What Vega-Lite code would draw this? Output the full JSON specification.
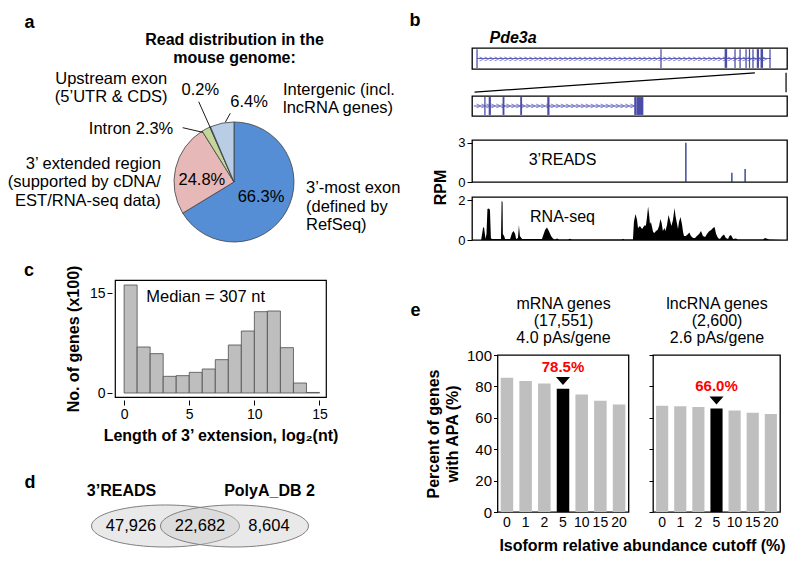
{
  "$schema": "https://vega.github.io/schema/vega-lite/v6.json",
  "background": "white",
  "padding": {"left": 7, "top": 10, "right": 0, "bottom": 0},
  "config": {
    "font": "Liberation Sans",
    "view": {"stroke": null},
    "axis": {"grid": false, "labelColor": "#000", "titleColor": "#000", "tickColor": "#000", "domainColor": "#000", "labelFont": "Liberation Sans", "titleFont": "Liberation Sans"},
    "title": {"color": "#000", "font": "Liberation Sans"},
    "text": {"color": "#000"}
  },
  "spacing": 7,
  "hconcat": [
    {
      "vconcat": [
        {
          "width": 283,
          "height": 192,
          "data": {"values": [
            {"region": "3’-most exon", "pct": 66.3, "order": 1, "label": "66.3%"},
            {"region": "3’ extended region", "pct": 24.8, "order": 2, "label": "24.8%"},
            {"region": "Intron", "pct": 2.3, "order": 3, "label": "2.3%"},
            {"region": "Upstream exon", "pct": 0.2, "order": 4, "label": "0.2%"},
            {"region": "Intergenic", "pct": 6.4, "order": 5, "label": "6.4%"}
          ]},
          "encoding": {
            "theta": {"field": "pct", "type": "quantitative", "stack": true},
            "order": {"field": "order", "type": "quantitative", "sort": "ascending"},
            "detail": {"field": "region", "type": "nominal"},
            "x": {"datum": 0, "type": "quantitative", "scale": {"domain": [-1.983, 2.733], "nice": false, "zero": false},
              "axis": {"orient": "top", "labels": false, "ticks": false, "domain": false, "title": ["Read distribution in the", "mouse genome:"], "titleX": 119, "titleY": -4, "titleAlign": "center", "titleBaseline": "alphabetic", "titleFontSize": 16, "titleFontWeight": "bold", "titleLineHeight": 18}},
            "y": {"datum": 0, "type": "quantitative", "scale": {"domain": [-0.967, 2.233], "nice": false, "zero": false},
              "axis": {"labels": false, "ticks": false, "domain": false, "title": "a", "titleX": -91, "titleY": -21, "titleAngle": 0, "titleAlign": "left", "titleBaseline": "alphabetic", "titleFontSize": 18, "titleFontWeight": "bold"}}
          },
          "layer": [
            {"mark": {"type": "arc", "outerRadius": 60, "stroke": "#404040", "strokeWidth": 0.8},
             "encoding": {"color": {"field": "region", "type": "nominal", "legend": null,
               "scale": {"domain": ["3’-most exon", "3’ extended region", "Intron", "Upstream exon", "Intergenic"], "range": ["#558ED5", "#E6B9B8", "#C3D69B", "#7F6A9F", "#B9CDE5"]}}}},
            {"data": {"values": [{}]}, "mark": {"type": "rule", "color": "#000", "strokeWidth": 0.9},
             "encoding": {"x": {"datum": -0.855}, "y": {"datum": 0.905}, "x2": {"datum": -0.522}, "y2": {"datum": 0.828}}},
            {"data": {"values": [{}]}, "mark": {"type": "rule", "color": "#000", "strokeWidth": 0.9},
             "encoding": {"x": {"datum": -0.588}, "y": {"datum": 1.338}, "x2": {"datum": -0.395}, "y2": {"datum": 0.905}}},
            {"data": {"values": [{}]}, "mark": {"type": "rule", "color": "#000", "strokeWidth": 0.9},
             "encoding": {"x": {"datum": -0.062}, "y": {"datum": 1.145}, "x2": {"datum": -0.145}, "y2": {"datum": 0.995}}},
            {"mark": {"type": "text", "radius": 31, "fontSize": 16.5, "align": "center", "baseline": "middle"},
             "encoding": {"text": {"condition": {"test": "datum.order === 1", "field": "label"}, "value": ""}}},
            {"mark": {"type": "text", "radius": 33, "dy": 6, "fontSize": 16.5, "align": "center", "baseline": "middle"},
             "encoding": {"text": {"condition": {"test": "datum.order === 2", "field": "label"}, "value": ""}}},
            {"mark": {"type": "text", "radius": 70, "dx": -28, "dy": 9, "fontSize": 16.5, "align": "right", "baseline": "middle"},
             "encoding": {"text": {"condition": {"test": "datum.order === 3", "value": "Intron  2.3%"}, "value": ""}}},
            {"mark": {"type": "text", "radius": 70, "dx": -95, "dy": -47, "fontSize": 16.5, "lineHeight": 18.5, "lineBreak": "\n", "align": "center", "baseline": "top"},
             "encoding": {"text": {"condition": {"test": "datum.order === 4", "value": "Upstream exon\n(5’UTR & CDS)"}, "value": ""}}},
            {"mark": {"type": "text", "radius": 95, "dx": 4, "dy": -5, "fontSize": 16.5, "align": "center", "baseline": "middle"},
             "encoding": {"text": {"condition": {"test": "datum.order === 4", "field": "label"}, "value": ""}}},
            {"mark": {"type": "text", "radius": 80, "dx": 31, "dy": -2, "fontSize": 16.5, "align": "center", "baseline": "middle"},
             "encoding": {"text": {"condition": {"test": "datum.order === 5", "field": "label"}, "value": ""}}},
            {"mark": {"type": "text", "radius": 80, "dx": 65, "dy": -22, "fontSize": 16.5, "lineHeight": 18.5, "lineBreak": "\n", "align": "left", "baseline": "top"},
             "encoding": {"text": {"condition": {"test": "datum.order === 5", "value": "Intergenic (incl.\nlncRNA genes)"}, "value": ""}}},
            {"mark": {"type": "text", "radius": 70, "dx": -5, "dy": -10, "fontSize": 16.5, "lineHeight": 18.5, "lineBreak": "\n", "align": "right", "baseline": "top"},
             "encoding": {"text": {"condition": {"test": "datum.order === 2", "value": "3’ extended region\n(supported by cDNA/\nEST/RNA-seq data)"}, "value": ""}}},
            {"mark": {"type": "text", "radius": 70, "dx": 11, "dy": -36, "fontSize": 16.5, "lineHeight": 18.5, "lineBreak": "\n", "align": "left", "baseline": "top"},
             "encoding": {"text": {"condition": {"test": "datum.order === 1", "value": "3’-most exon\n(defined by\nRefSeq)"}, "value": ""}}}
          ]
        },
        {
          "width": 211,
          "height": 117,
          "view": {"stroke": "#000", "strokeWidth": 1.2},
          "title": {"text": "c", "anchor": "start", "frame": "group", "dx": -91, "dy": 34, "offset": 5, "baseline": "alphabetic", "fontSize": 18, "fontWeight": "bold"},
          "layer": [
            {
              "data": {"values": [
                {"bin_start": 0, "bin_end": 1, "count": 16.2},
                {"bin_start": 1, "bin_end": 2, "count": 6.9},
                {"bin_start": 2, "bin_end": 3, "count": 5.9},
                {"bin_start": 3, "bin_end": 4, "count": 2.5},
                {"bin_start": 4, "bin_end": 5, "count": 2.6},
                {"bin_start": 5, "bin_end": 6, "count": 3.1},
                {"bin_start": 6, "bin_end": 7, "count": 3.6},
                {"bin_start": 7, "bin_end": 8, "count": 5.0},
                {"bin_start": 8, "bin_end": 9, "count": 7.2},
                {"bin_start": 9, "bin_end": 10, "count": 9.3},
                {"bin_start": 10, "bin_end": 11, "count": 12.2},
                {"bin_start": 11, "bin_end": 12, "count": 12.3},
                {"bin_start": 12, "bin_end": 13, "count": 6.8},
                {"bin_start": 13, "bin_end": 14, "count": 1.5},
                {"bin_start": 14, "bin_end": 15, "count": 0.08}
              ]},
              "mark": {"type": "bar", "fill": "#BEBEBE", "stroke": "#4D4D4D", "strokeWidth": 0.8},
              "encoding": {
                "x": {"field": "bin_start", "type": "quantitative", "scale": {"domain": [-0.7, 15.5], "nice": false, "zero": false},
                  "axis": {"values": [0, 5, 10, 15], "offset": 3, "domain": false, "tickSize": 5, "labelFontSize": 14, "labelPadding": 2, "labelFlush": false, "title": "Length of 3’ extension, log₂(nt)", "titleFontSize": 16, "titleFontWeight": "bold", "titlePadding": 6}},
                "x2": {"field": "bin_end"},
                "y": {"field": "count", "type": "quantitative", "scale": {"domain": [-0.6, 16.95], "nice": false, "zero": false},
                  "axis": {"values": [0, 5, 10, 15], "offset": 3, "domain": false, "tickSize": 5, "labelFontSize": 14, "labelPadding": 2, "labelFlush": false, "title": "No. of genes (x100)", "titleFontSize": 16, "titleFontWeight": "bold", "titlePadding": 8}},
                "y2": {"datum": 0}
              }
            },
            {
              "data": {"values": [{"note": "Median = 307 nt"}]},
              "mark": {"type": "text", "align": "left", "baseline": "alphabetic", "fontSize": 16.5},
              "encoding": {"x": {"datum": 1.7}, "y": {"datum": 13.6}, "text": {"field": "note"}}
            }
          ]
        },
        {
          "width": 170,
          "height": 178,
          "encoding": {
            "x": {"field": "slot", "type": "nominal",
              "scale": {"type": "point", "domain": ["3’READS only", "3’READS", "Both", "PolyA_DB 2", "PolyA_DB 2 only"], "padding": 0.464},
              "axis": {"orient": "top", "labels": false, "ticks": false, "domain": false, "title": "d", "titleX": -91, "titleY": 50, "titleAngle": 0, "titleAlign": "left", "titleBaseline": "alphabetic", "titleFontSize": 18, "titleFontWeight": "bold"}}
          },
          "layer": [
            {
              "data": {"values": [{"slot": "3’READS"}, {"slot": "PolyA_DB 2"}]},
              "mark": {"type": "point", "shape": "M -1 0 C -1 -0.157 -0.5523 -0.284 0 -0.284 C 0.5523 -0.284 1 -0.157 1 0 C 1 0.157 0.5523 0.284 0 0.284 C -0.5523 0.284 -1 0.157 -1 0 Z", "size": 21904, "filled": true, "fill": "#C8C8C8", "fillOpacity": 0.4, "stroke": "#7F7F7F", "strokeWidth": 1, "strokeOpacity": 1, "opacity": 1}
            },
            {
              "data": {"values": [{"slot": "3’READS"}]},
              "mark": {"type": "text", "fontSize": 16, "fontWeight": "bold", "dx": -44, "dy": -35, "baseline": "middle"},
              "encoding": {"text": {"field": "slot"}}
            },
            {
              "data": {"values": [{"slot": "PolyA_DB 2"}]},
              "mark": {"type": "text", "fontSize": 16, "fontWeight": "bold", "dx": 35, "dy": -35, "baseline": "middle"},
              "encoding": {"text": {"field": "slot"}}
            },
            {
              "data": {"values": [
                {"slot": "3’READS only", "count": 47926},
                {"slot": "Both", "count": 22682},
                {"slot": "PolyA_DB 2 only", "count": 8604}
              ]},
              "mark": {"type": "text", "fontSize": 16.5, "baseline": "middle"},
              "encoding": {"text": {"field": "count", "type": "quantitative", "format": ","}}
            }
          ]
        }
      ],
      "bounds": "flush",
      "spacing": 40
    },
    {
      "vconcat": [
        {
          "vconcat": [
            {
              "width": 315,
              "height": 21,
              "view": {"stroke": "#000", "strokeWidth": 1.3},
              "data": {"values": [
                {"model": "Pde3a", "feature": "intron", "start": 1.6, "end": 94.9},
                {"model": "Pde3a", "feature": "exon", "start": 1.4, "end": 1.8},
                {"model": "Pde3a", "feature": "exon", "start": 59.8, "end": 60.2},
                {"model": "Pde3a", "feature": "exon", "start": 80.2, "end": 81.0},
                {"model": "Pde3a", "feature": "exon", "start": 83.3, "end": 83.7},
                {"model": "Pde3a", "feature": "exon", "start": 84.9, "end": 85.3},
                {"model": "Pde3a", "feature": "exon", "start": 86.8, "end": 87.2},
                {"model": "Pde3a", "feature": "exon", "start": 87.9, "end": 88.3},
                {"model": "Pde3a", "feature": "exon", "start": 89.0, "end": 89.4},
                {"model": "Pde3a", "feature": "exon", "start": 90.4, "end": 91.1},
                {"model": "Pde3a", "feature": "exon", "start": 91.6, "end": 92.4},
                {"model": "Pde3a", "feature": "exon", "start": 94.4, "end": 94.8}
              ]},
              "encoding": {
                "x": {"field": "start", "type": "quantitative", "scale": {"domain": [0, 100], "nice": false, "zero": false},
                  "axis": {"labels": false, "ticks": false, "domain": false, "title": "Pde3a", "titleX": 17, "titleY": -27, "titleAlign": "left", "titleBaseline": "alphabetic", "titleFontSize": 16, "titleFontWeight": "bold", "titleFontStyle": "italic"}},
                "y": {"field": "model", "type": "nominal", "scale": {"paddingInner": 0, "paddingOuter": 0.06},
                  "axis": {"labels": false, "ticks": false, "domain": false, "title": "b", "titleX": -63, "titleY": -23, "titleAngle": 0, "titleAlign": "left", "titleBaseline": "alphabetic", "titleFontSize": 18, "titleFontWeight": "bold"}}
              },
              "layer": [
                {"transform": [{"filter": "datum.feature === 'intron'"}], "mark": {"type": "rule", "color": "#5B5BB5", "strokeWidth": 1.2}, "encoding": {"x2": {"field": "end"}}},
                {"transform": [{"filter": "datum.feature === 'intron'"}], "mark": {"type": "text", "text": ">>>>>>>>>>>>>>>>>>>>>>>>>>>>>>>>>>>>>>>>>>>>>>>>>>>>>>>>>>", "fontSize": 8.5, "color": "#6A6AC0", "align": "left", "baseline": "middle", "dx": 2}},
                {"transform": [{"filter": "datum.feature === 'exon'"}], "mark": {"type": "bar", "color": "#4B4BA8"}, "encoding": {"x2": {"field": "end"}}}
              ]
            },
            {
              "width": 315,
              "height": 27,
              "data": {"values": [
                {"link": "left", "level": "Whole gene", "pos": 89.8},
                {"link": "left", "level": "3’ end", "pos": 0.8},
                {"link": "right", "level": "Whole gene", "pos": 99.7},
                {"link": "right", "level": "3’ end", "pos": 99.7}
              ]},
              "mark": {"type": "line", "color": "#000", "strokeWidth": 1.2},
              "encoding": {
                "x": {"field": "pos", "type": "quantitative", "scale": {"domain": [0, 100], "nice": false, "zero": false}, "axis": null},
                "y": {"field": "level", "type": "ordinal", "scale": {"type": "point", "domain": ["Whole gene", "3’ end"], "padding": 0.2}, "axis": null},
                "detail": {"field": "link"}
              }
            },
            {
              "width": 315,
              "height": 20,
              "view": {"stroke": "#000", "strokeWidth": 1.3},
              "data": {"values": [
                {"model": "3’ end", "feature": "intron", "start": 0.6, "end": 52.0},
                {"model": "3’ end", "feature": "exon", "start": 3.9, "end": 4.3},
                {"model": "3’ end", "feature": "exon", "start": 5.3, "end": 6.0},
                {"model": "3’ end", "feature": "exon", "start": 9.7, "end": 10.3},
                {"model": "3’ end", "feature": "exon", "start": 15.3, "end": 15.9},
                {"model": "3’ end", "feature": "exon", "start": 23.9, "end": 24.6},
                {"model": "3’ end", "feature": "exon", "start": 51.5, "end": 52.2},
                {"model": "3’ end", "feature": "exon", "start": 52.2, "end": 54.4}
              ]},
              "encoding": {
                "x": {"field": "start", "type": "quantitative", "scale": {"domain": [0, 100], "nice": false, "zero": false}, "axis": null},
                "y": {"field": "model", "type": "nominal", "scale": {"paddingInner": 0, "paddingOuter": 0.06}, "axis": null}
              },
              "layer": [
                {"transform": [{"filter": "datum.feature === 'intron'"}], "mark": {"type": "rule", "color": "#5B5BB5", "strokeWidth": 1.2}, "encoding": {"x2": {"field": "end"}}},
                {"transform": [{"filter": "datum.feature === 'intron'"}], "mark": {"type": "text", "text": ">>>>>>>>>>>>>>>>>>>>>>>>>>>>>>>>", "fontSize": 8.5, "color": "#6A6AC0", "align": "left", "baseline": "middle", "dx": 2}},
                {"transform": [{"filter": "datum.feature === 'exon'"}], "mark": {"type": "bar", "color": "#4B4BA8"}, "encoding": {"x2": {"field": "end"}}}
              ]
            },
            {"width": 315, "height": 24, "data": {"values": [{}]}, "mark": {"type": "text", "text": ""}},
            {
              "width": 315,
              "height": 42,
              "view": {"stroke": "#000", "strokeWidth": 1.3},
              "data": {"values": [
                {"pos": 67.9, "rpm": 3.0},
                {"pos": 82.5, "rpm": 0.7},
                {"pos": 86.7, "rpm": 1.0}
              ]},
              "mark": {"type": "rule", "color": "#22308A", "strokeWidth": 1.3},
              "encoding": {
                "x": {"field": "pos", "type": "quantitative", "scale": {"domain": [0, 100], "nice": false, "zero": false},
                  "axis": {"labels": false, "ticks": false, "domain": false, "title": "3’READS", "titleX": 90, "titleY": -23, "titleAlign": "center", "titleBaseline": "middle", "titleFontSize": 16, "titleFontWeight": "normal"}},
                "y": {"field": "rpm", "type": "quantitative", "scale": {"domain": [0, 3.2], "nice": false},
                  "axis": {"values": [0, 3], "tickSize": 5, "domain": false, "labelFontSize": 13, "labelPadding": 2, "title": "RPM", "titleX": -32, "titleY": 47, "titleAngle": -90, "titleAlign": "center", "titleBaseline": "middle", "titleFontSize": 16, "titleFontWeight": "bold"}},
                "y2": {"datum": 0}
              }
            },
            {"width": 315, "height": 15, "data": {"values": [{}]}, "mark": {"type": "text", "text": ""}},
            {
              "width": 315,
              "height": 43,
              "view": {"stroke": "#000", "strokeWidth": 1.3},
              "data": {"values": [
                {"pos": 0, "rpm": 0}, {"pos": 2.9, "rpm": 0}, {"pos": 3.5, "rpm": 0.6}, {"pos": 3.8, "rpm": 0.65},
                {"pos": 4.3, "rpm": 0.05}, {"pos": 4.6, "rpm": 0.3}, {"pos": 4.9, "rpm": 1.55}, {"pos": 5.4, "rpm": 1.58},
                {"pos": 5.7, "rpm": 1.5}, {"pos": 6.0, "rpm": 0.1}, {"pos": 6.3, "rpm": 0.05}, {"pos": 8.3, "rpm": 0.05},
                {"pos": 9.2, "rpm": 0.05}, {"pos": 9.4, "rpm": 1.95}, {"pos": 9.7, "rpm": 1.9}, {"pos": 9.8, "rpm": 0.3},
                {"pos": 10.2, "rpm": 0.2}, {"pos": 10.5, "rpm": 0.05}, {"pos": 12.1, "rpm": 0.05}, {"pos": 12.7, "rpm": 0.35},
                {"pos": 13.2, "rpm": 0.45}, {"pos": 13.7, "rpm": 0.3}, {"pos": 14.0, "rpm": 0.05}, {"pos": 14.6, "rpm": 0.1},
                {"pos": 14.9, "rpm": 0.75}, {"pos": 15.2, "rpm": 0.2}, {"pos": 15.9, "rpm": 0.05}, {"pos": 22.2, "rpm": 0.05},
                {"pos": 23.2, "rpm": 0.5}, {"pos": 23.8, "rpm": 0.62}, {"pos": 24.4, "rpm": 0.45}, {"pos": 25.1, "rpm": 0.2},
                {"pos": 25.7, "rpm": 0.08}, {"pos": 26.3, "rpm": 0.02}, {"pos": 27.0, "rpm": 0.08}, {"pos": 27.6, "rpm": 0.02},
                {"pos": 30.5, "rpm": 0.02}, {"pos": 31.1, "rpm": 0.06}, {"pos": 31.7, "rpm": 0.02}, {"pos": 47.6, "rpm": 0.02},
                {"pos": 47.9, "rpm": 0.06}, {"pos": 48.3, "rpm": 0.02}, {"pos": 51.1, "rpm": 0.02}, {"pos": 51.4, "rpm": 0.9},
                {"pos": 51.9, "rpm": 1.3}, {"pos": 52.4, "rpm": 1.0}, {"pos": 52.7, "rpm": 0.6}, {"pos": 53.3, "rpm": 0.7},
                {"pos": 54.0, "rpm": 0.55}, {"pos": 54.4, "rpm": 0.65}, {"pos": 54.9, "rpm": 0.75}, {"pos": 55.2, "rpm": 0.7},
                {"pos": 55.6, "rpm": 1.2}, {"pos": 55.9, "rpm": 1.67}, {"pos": 56.2, "rpm": 1.3}, {"pos": 56.5, "rpm": 0.8},
                {"pos": 56.8, "rpm": 0.9}, {"pos": 57.5, "rpm": 0.4}, {"pos": 57.9, "rpm": 0.35}, {"pos": 58.4, "rpm": 0.45},
                {"pos": 58.9, "rpm": 0.5}, {"pos": 59.4, "rpm": 0.7}, {"pos": 59.8, "rpm": 1.05}, {"pos": 60.2, "rpm": 0.85},
                {"pos": 60.6, "rpm": 0.45}, {"pos": 61.1, "rpm": 0.6}, {"pos": 61.4, "rpm": 0.45}, {"pos": 61.9, "rpm": 0.75},
                {"pos": 62.4, "rpm": 1.25}, {"pos": 62.9, "rpm": 0.95}, {"pos": 63.3, "rpm": 0.7}, {"pos": 63.8, "rpm": 1.0},
                {"pos": 64.3, "rpm": 1.6}, {"pos": 64.6, "rpm": 1.2}, {"pos": 65.1, "rpm": 0.8}, {"pos": 65.4, "rpm": 0.55},
                {"pos": 65.7, "rpm": 0.9}, {"pos": 66.2, "rpm": 1.15}, {"pos": 66.7, "rpm": 0.75}, {"pos": 67.0, "rpm": 0.4},
                {"pos": 67.3, "rpm": 0.2}, {"pos": 67.9, "rpm": 0.2}, {"pos": 68.6, "rpm": 0.3}, {"pos": 69.0, "rpm": 0.38},
                {"pos": 69.5, "rpm": 0.2}, {"pos": 70.2, "rpm": 0.1}, {"pos": 70.8, "rpm": 0.1}, {"pos": 71.4, "rpm": 0.2},
                {"pos": 72.1, "rpm": 0.3}, {"pos": 72.7, "rpm": 0.45}, {"pos": 73.3, "rpm": 0.2}, {"pos": 74.0, "rpm": 0.15},
                {"pos": 74.6, "rpm": 0.3}, {"pos": 75.2, "rpm": 0.42}, {"pos": 75.9, "rpm": 0.5}, {"pos": 76.5, "rpm": 0.6},
                {"pos": 77.0, "rpm": 0.65}, {"pos": 77.5, "rpm": 0.3}, {"pos": 78.1, "rpm": 0.1}, {"pos": 78.7, "rpm": 0.05},
                {"pos": 79.4, "rpm": 0.2}, {"pos": 80.0, "rpm": 0.28}, {"pos": 80.6, "rpm": 0.1}, {"pos": 81.3, "rpm": 0.05},
                {"pos": 81.7, "rpm": 0.2}, {"pos": 82.2, "rpm": 0.25}, {"pos": 82.9, "rpm": 0.05}, {"pos": 83.8, "rpm": 0.08},
                {"pos": 84.4, "rpm": 0.02}, {"pos": 92.4, "rpm": 0.02}, {"pos": 93.0, "rpm": 0.1}, {"pos": 93.7, "rpm": 0.06},
                {"pos": 94.3, "rpm": 0.02}, {"pos": 99.0, "rpm": 0}
              ]},
              "mark": {"type": "area", "color": "#000", "interpolate": "linear"},
              "encoding": {
                "x": {"field": "pos", "type": "quantitative", "scale": {"domain": [0, 100], "nice": false, "zero": false},
                  "axis": {"labels": false, "ticks": false, "domain": false, "title": "RNA-seq", "titleX": 90, "titleY": -24, "titleAlign": "center", "titleBaseline": "middle", "titleFontSize": 16, "titleFontWeight": "normal"}},
                "y": {"field": "rpm", "type": "quantitative", "scale": {"domain": [0, 2.15], "nice": false},
                  "axis": {"values": [0, 2], "tickSize": 5, "domain": false, "labelFontSize": 13, "labelPadding": 2, "title": null}}
              }
            }
          ],
          "bounds": "flush",
          "spacing": 0
        },
        {
          "hconcat": [
            {"width": 0.01, "height": 1, "data": {"values": [{}]}, "mark": {"type": "text", "text": ""}},
            {
              "width": 131,
              "height": 157,
              "view": {"stroke": "#000", "strokeWidth": 1.3},
              "data": {"values": [
                {"cutoff": 0, "pct": 85.5}, {"cutoff": 1, "pct": 83.4}, {"cutoff": 2, "pct": 81.9},
                {"cutoff": 5, "pct": 78.5, "label": "78.5%"}, {"cutoff": 10, "pct": 74.8},
                {"cutoff": 15, "pct": 70.9}, {"cutoff": 20, "pct": 68.4}
              ]},
              "encoding": {
                "x": {"field": "cutoff", "type": "ordinal", "scale": {"paddingInner": 0.33, "paddingOuter": 0.17},
                  "axis": {"labelAngle": 0, "ticks": false, "domain": false, "labelFontSize": 14, "labelPadding": 3, "title": ["mRNA genes", "(17,551)", "4.0 pAs/gene"], "titleX": 65.5, "titleY": -204, "titleAlign": "center", "titleBaseline": "alphabetic", "titleFontSize": 16, "titleFontWeight": "normal", "titleLineHeight": 17}},
                "y": {"field": "pct", "type": "quantitative", "scale": {"domain": [0, 100], "nice": false},
                  "axis": {"values": [0, 20, 40, 60, 80, 100], "tickSize": 4, "domain": false, "labelFontSize": 15, "labelPadding": 2, "title": ["Percent of genes", "with APA (%)"], "titleFontSize": 16, "titleFontWeight": "bold", "titlePadding": 6, "titleLineHeight": 19}}
              },
              "layer": [
                {"mark": {"type": "bar"}, "encoding": {"color": {"condition": {"test": "datum.cutoff === 5", "value": "#000000"}, "value": "#BFBFBF"}}},
                {"transform": [{"filter": "datum.cutoff === 5"}], "mark": {"type": "point", "shape": "M -1 -1.69 L 1 -1.69 L 0 -0.55 Z", "size": 196, "filled": true, "color": "#000", "opacity": 1}},
                {"transform": [{"filter": "datum.cutoff === 5"}], "mark": {"type": "text", "color": "#FF0000", "fontWeight": "bold", "fontSize": 15, "dy": -22, "baseline": "middle"}, "encoding": {"text": {"field": "label"}}}
              ]
            },
            {
              "width": 127,
              "height": 157,
              "view": {"stroke": "#000", "strokeWidth": 1.3},
              "title": {"text": "Isoform relative abundance cutoff (%)", "orient": "bottom", "anchor": "middle", "frame": "group", "dx": -74, "offset": 9, "baseline": "top", "fontSize": 16, "fontWeight": "bold"},
              "data": {"values": [
                {"cutoff": 0, "pct": 67.6}, {"cutoff": 1, "pct": 67.3}, {"cutoff": 2, "pct": 66.9},
                {"cutoff": 5, "pct": 66.0, "label": "66.0%"}, {"cutoff": 10, "pct": 64.7},
                {"cutoff": 15, "pct": 63.2}, {"cutoff": 20, "pct": 62.5}
              ]},
              "encoding": {
                "x": {"field": "cutoff", "type": "ordinal", "scale": {"paddingInner": 0.33, "paddingOuter": 0.17},
                  "axis": {"labelAngle": 0, "ticks": false, "domain": false, "labelFontSize": 14, "labelPadding": 3, "title": ["lncRNA genes", "(2,600)", "2.6 pAs/gene"], "titleX": 63.5, "titleY": -204, "titleAlign": "center", "titleBaseline": "alphabetic", "titleFontSize": 16, "titleFontWeight": "normal", "titleLineHeight": 17}},
                "y": {"field": "pct", "type": "quantitative", "scale": {"domain": [0, 100], "nice": false},
                  "axis": {"values": [0, 20, 40, 60, 80, 100], "labels": false, "tickSize": 4, "domain": false, "title": "e", "titleX": -243, "titleY": -40, "titleAngle": 0, "titleAlign": "left", "titleBaseline": "alphabetic", "titleFontSize": 18, "titleFontWeight": "bold"}}
              },
              "layer": [
                {"mark": {"type": "bar"}, "encoding": {"color": {"condition": {"test": "datum.cutoff === 5", "value": "#000000"}, "value": "#BFBFBF"}}},
                {"transform": [{"filter": "datum.cutoff === 5"}], "mark": {"type": "point", "shape": "M -1 -1.69 L 1 -1.69 L 0 -0.55 Z", "size": 196, "filled": true, "color": "#000", "opacity": 1}},
                {"transform": [{"filter": "datum.cutoff === 5"}], "mark": {"type": "text", "color": "#FF0000", "fontWeight": "bold", "fontSize": 15, "dy": -22, "baseline": "middle"}, "encoding": {"text": {"field": "label"}}}
              ]
            }
          ],
          "bounds": "flush",
          "spacing": 24.5
        }
      ],
      "spacing": 46
    }
  ]
}
